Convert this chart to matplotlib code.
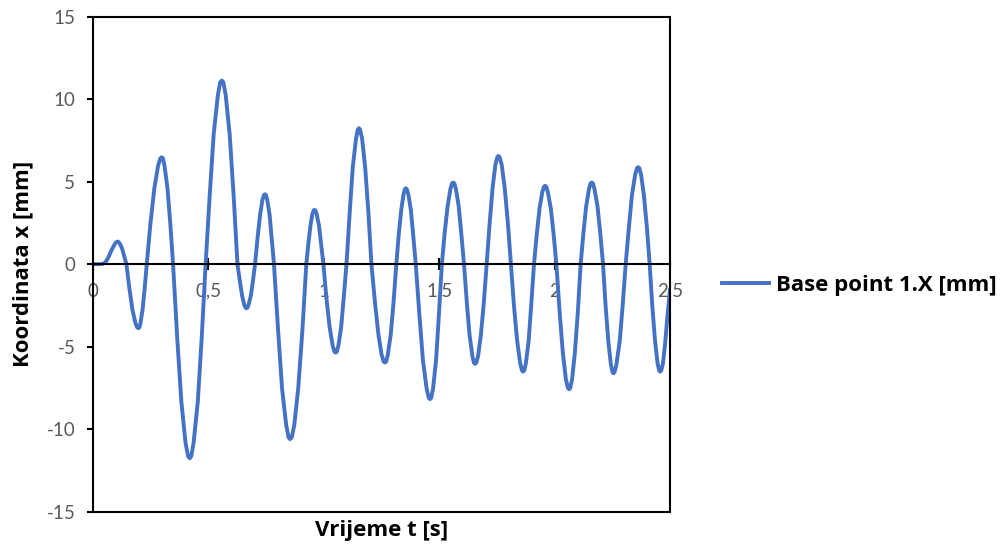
import numpy as np
import matplotlib
matplotlib.use("Agg")
import matplotlib.pyplot as plt
from matplotlib.ticker import FuncFormatter

plt.rcParams['font.family'] = ['Lato', 'DejaVu Sans']
plt.rcParams['axes.unicode_minus'] = False

# time [s] and x coordinate [mm] of base point 1
t = [0.000, 0.020, 0.040, 0.050, 0.060, 0.070, 0.080, 0.090, 0.098, 0.103, 0.107,
     0.111, 0.117, 0.127, 0.136, 0.146,
     0.159, 0.172, 0.185, 0.193, 0.198,
     0.202, 0.207, 0.216, 0.225, 0.234,
     0.250, 0.267, 0.283, 0.293, 0.299,
     0.304, 0.311, 0.324, 0.336, 0.348,
     0.366, 0.384, 0.402, 0.413, 0.420,
     0.427, 0.437, 0.455, 0.472, 0.489,
     0.507, 0.524, 0.542, 0.552, 0.559,
     0.566, 0.576, 0.593, 0.610, 0.627,
     0.637, 0.647, 0.656, 0.662, 0.666,
     0.670, 0.675, 0.685, 0.694, 0.703,
     0.714, 0.725, 0.735, 0.742, 0.746,
     0.750, 0.756, 0.766, 0.775, 0.785,
     0.803, 0.820, 0.838, 0.848, 0.855,
     0.862, 0.873, 0.890, 0.908, 0.925,
     0.934, 0.943, 0.951, 0.957, 0.960,
     0.964, 0.970, 0.980, 0.989, 0.999,
     1.012, 1.026, 1.039, 1.047, 1.052,
     1.057, 1.064, 1.076, 1.087, 1.099,
     1.113, 1.126, 1.140, 1.148, 1.153,
     1.158, 1.167, 1.180, 1.194, 1.207,
     1.222, 1.237, 1.251, 1.260, 1.266,
     1.271, 1.278, 1.291, 1.303, 1.315,
     1.325, 1.336, 1.346, 1.352, 1.356,
     1.360, 1.367, 1.378, 1.388, 1.399,
     1.415, 1.430, 1.446, 1.455, 1.461,
     1.466, 1.474, 1.487, 1.499, 1.512,
     1.524, 1.537, 1.549, 1.556, 1.561,
     1.566, 1.573, 1.585, 1.596, 1.608,
     1.620, 1.632, 1.644, 1.651, 1.656,
     1.661, 1.669, 1.681, 1.694, 1.706,
     1.719, 1.732, 1.744, 1.752, 1.757,
     1.762, 1.771, 1.784, 1.798, 1.811,
     1.824, 1.838, 1.851, 1.859, 1.864,
     1.869, 1.876, 1.888, 1.899, 1.911,
     1.923, 1.935, 1.947, 1.954, 1.959,
     1.964, 1.971, 1.984, 1.996, 2.008,
     2.022, 2.036, 2.049, 2.058, 2.063,
     2.068, 2.076, 2.088, 2.101, 2.113,
     2.125, 2.137, 2.149, 2.156, 2.161,
     2.166, 2.173, 2.186, 2.198, 2.210,
     2.221, 2.233, 2.244, 2.251, 2.255,
     2.260, 2.268, 2.282, 2.295, 2.308,
     2.322, 2.335, 2.349, 2.357, 2.362,
     2.367, 2.375, 2.387, 2.400, 2.412,
     2.423, 2.435, 2.446, 2.453, 2.457,
     2.462, 2.469, 2.478, 2.488, 2.500]

x = [0.00, 0.00, 0.01, 0.06, 0.22, 0.48, 0.80, 1.08, 1.27, 1.34, 1.37,
     1.36, 1.26, 0.97, 0.52, 0.00,
     -1.47, -2.75, -3.57, -3.84, -3.88,
     -3.84, -3.57, -2.75, -1.47, 0.00,
     2.46, 4.60, 5.96, 6.42, 6.48,
     6.42, 5.96, 4.60, 2.46, 0.00,
     -4.47, -8.35, -10.82, -11.64, -11.76,
     -11.64, -10.82, -8.35, -4.47, 0.00,
     4.23, 7.90, 10.24, 11.02, 11.13,
     11.02, 10.24, 7.90, 4.23, 0.00,
     -1.01, -1.90, -2.46, -2.64, -2.67,
     -2.64, -2.46, -1.90, -1.01, 0.00,
     1.61, 3.01, 3.90, 4.20, 4.24,
     4.20, 3.90, 3.01, 1.61, 0.00,
     -4.03, -7.53, -9.75, -10.49, -10.60,
     -10.49, -9.75, -7.53, -4.03, 0.00,
     1.25, 2.34, 3.03, 3.26, 3.29,
     3.26, 3.03, 2.34, 1.25, 0.00,
     -2.04, -3.81, -4.93, -5.31, -5.36,
     -5.31, -4.93, -3.81, -2.04, 0.00,
     3.13, 5.85, 7.58, 8.16, 8.24,
     8.16, 7.58, 5.85, 3.13, 0.00,
     -2.26, -4.23, -5.48, -5.90, -5.96,
     -5.90, -5.48, -4.23, -2.26, 0.00,
     1.75, 3.27, 4.23, 4.55, 4.60,
     4.55, 4.23, 3.27, 1.75, 0.00,
     -3.11, -5.81, -7.53, -8.10, -8.18,
     -8.10, -7.53, -5.81, -3.11, 0.00,
     1.88, 3.51, 4.55, 4.90, 4.95,
     4.90, 4.55, 3.51, 1.88, 0.00,
     -2.30, -4.29, -5.56, -5.98, -6.04,
     -5.98, -5.56, -4.29, -2.30, 0.00,
     2.49, 4.66, 6.04, 6.49, 6.56,
     6.49, 6.04, 4.66, 2.49, 0.00,
     -2.47, -4.62, -5.99, -6.44, -6.51,
     -6.44, -5.99, -4.62, -2.47, 0.00,
     1.81, 3.37, 4.37, 4.70, 4.75,
     4.70, 4.37, 3.37, 1.81, 0.00,
     -2.88, -5.38, -6.97, -7.50, -7.58,
     -7.50, -6.97, -5.38, -2.88, 0.00,
     1.88, 3.51, 4.55, 4.90, 4.95,
     4.90, 4.55, 3.51, 1.88, 0.00,
     -2.51, -4.69, -6.08, -6.54, -6.61,
     -6.54, -6.08, -4.69, -2.51, 0.00,
     2.23, 4.17, 5.41, 5.82, 5.88,
     5.82, 5.41, 4.17, 2.23, 0.00,
     -2.47, -4.62, -5.99, -6.44, -6.51,
     -6.44, -6.05, -4.95, -3.30, -1.56]

x_ticks = [0, 0.5, 1, 1.5, 2, 2.5]
y_ticks = [-15, -10, -5, 0, 5, 10, 15]

bold = {'family': ['Open Sans', 'DejaVu Sans'], 'weight': 'bold', 'size': 16}

fig = plt.figure(figsize=(10.08, 5.49), dpi=100)
ax = fig.add_axes([92.7/1008, 1 - 511.7/549, (670 - 92.7)/1008, (511.7 - 16.7)/549])

ax.plot(t, x, color='#4472C4', lw=2.8, solid_joinstyle='round',
        label='Base point 1.X [mm]')

ax.set_xlim(0, 2.5)
ax.set_ylim(-15, 15)
ax.set_xticks(x_ticks)
ax.set_yticks(y_ticks)
ax.xaxis.set_major_formatter(FuncFormatter(lambda v, p: f'{v:g}'.replace('.', ',')))

# x axis runs through zero, box drawn around the plot area
ax.spines['bottom'].set_position(('data', 0))
for s in ax.spines.values():
    s.set_linewidth(1.5)
    s.set_color('black')
ax.plot([0, 1], [0, 0], transform=ax.transAxes, color='black', lw=1.5,
        clip_on=False, solid_capstyle='projecting')

ax.tick_params(axis='x', direction='inout', length=8.5, width=1.5, pad=9,
               labelsize=13.5, labelcolor='#595959')
ax.tick_params(axis='y', direction='out', length=4.5, width=1.5, pad=8,
               labelsize=13.5, labelcolor='#595959')

ax.set_xlabel('Vrijeme t [s]', fontdict=bold)
ax.xaxis.set_label_coords(0.5, -0.016)
ax.set_ylabel('Koordinata x [mm]', fontdict=bold)
ax.yaxis.set_label_coords(-0.103, 0.5)

ax.legend(loc='center left', bbox_to_anchor=(722/1008, 1 - 285/549),
          bbox_transform=fig.transFigure, frameon=False, borderpad=0,
          borderaxespad=0, handlelength=2.1, handletextpad=0.35,
          prop=bold)

fig.savefig('out.png', dpi=100)
